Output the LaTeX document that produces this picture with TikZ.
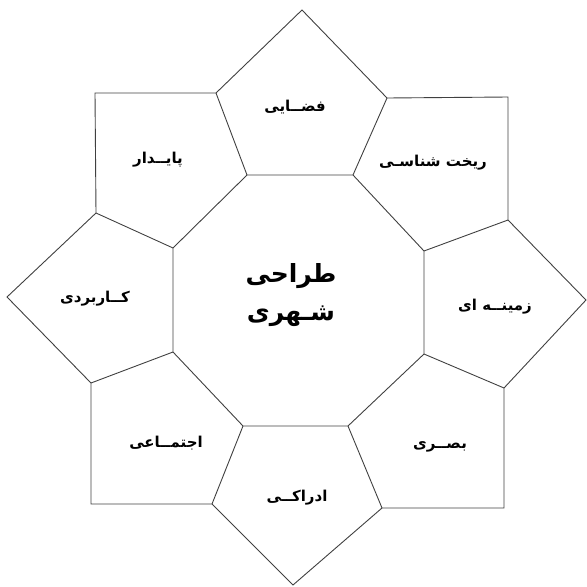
\documentclass[tikz,border=0pt]{standalone}
\usepackage{fontspec}
\newfontfamily\arabicfont[Script=Arabic]{DejaVu Sans}
\TeXXeTstate=1
\begin{document}
\begin{tikzpicture}[x=1pt,y=-1pt,
  edge/.style={draw=black!75, line width=0.9pt, line join=miter},
  lbl/.style={font=\arabicfont\bfseries\fontsize{15}{18}\selectfont, inner sep=0pt},
  ctr/.style={font=\arabicfont\bfseries\fontsize{25}{30}\selectfont, inner sep=0pt}]
\useasboundingbox (0,0) rectangle (587,587);
% octagon
\coordinate (O1) at (247,175);
\coordinate (O2) at (353,175);
\coordinate (O3) at (424,251);
\coordinate (O4) at (424,354);
\coordinate (O5) at (348,426);
\coordinate (O6) at (243,426);
\coordinate (O7) at (173,352);
\coordinate (O8) at (173,248);
% outer contour
\coordinate (A1) at (302,10);
\coordinate (A2) at (387,98);
\coordinate (A3) at (508,97);
\coordinate (A4) at (508,220);
\coordinate (A5) at (586,300);
\coordinate (A6) at (504,388);
\coordinate (A7) at (504,508);
\coordinate (A8) at (382,508);
\coordinate (A9) at (293,585);
\coordinate (A10) at (212,504);
\coordinate (A11) at (91,504);
\coordinate (A12) at (91,383);
\coordinate (A13) at (7,297);
\coordinate (A14) at (96,213);
\coordinate (A15) at (95,93);
\coordinate (A16) at (216,93);
\draw[edge] (O1)--(O2)--(O3)--(O4)--(O5)--(O6)--(O7)--(O8)--cycle;
\draw[edge] (A1)--(A2)--(A3)--(A4)--(A5)--(A6)--(A7)--(A8)--(A9)--(A10)--(A11)--(A12)--(A13)--(A14)--(A15)--(A16)--cycle;
\draw[edge] (O1)--(A16);
\draw[edge] (O2)--(A2);
\draw[edge] (O3)--(A4);
\draw[edge] (O4)--(A6);
\draw[edge] (O5)--(A8);
\draw[edge] (O6)--(A10);
\draw[edge] (O7)--(A12);
\draw[edge] (O8)--(A14);
% labels
\node[lbl] (t1) at (295,107) {\beginR فضــایی\endR};
\node[lbl] (t2) at (433,163) {\beginR ریخت شناسـی\endR};
\node[lbl] (t3) at (495,307) {\beginR زمینــه ای\endR};
\node[lbl] (t4) at (440,447) {\beginR بصــری\endR};
\node[lbl] (t5) at (297,498) {\beginR ادراکــی\endR};
\node[lbl] (t6) at (166,443) {\beginR اجتمــاعی\endR};
\node[lbl] (t7) at (95,299) {\beginR کــاربردی\endR};
\node[lbl] (t8) at (158,160) {\beginR پایــدار\endR};
\node[ctr] (c1) at (291,276) {\beginR طراحی\endR};
\node[ctr] (c2) at (291,316) {\beginR شـهری\endR};
\end{tikzpicture}
\end{document}
